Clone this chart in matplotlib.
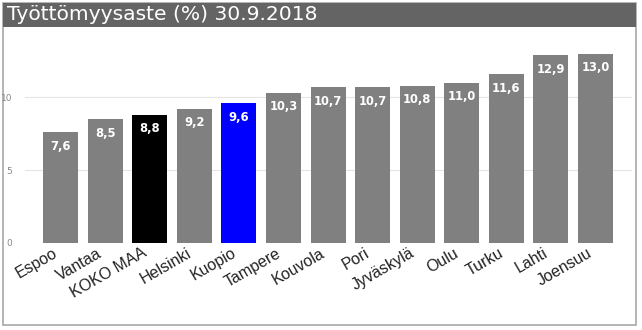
import matplotlib
matplotlib.use("Agg")
import matplotlib.pyplot as plt
import matplotlib.transforms as mtransforms
from matplotlib.patches import Rectangle

# -------- Data ----------
cities = ["Espoo", "Vantaa", "KOKO MAA", "Helsinki", "Kuopio", "Tampere", "Kouvola",
          "Pori", "Jyväskylä", "Oulu", "Turku", "Lahti", "Joensuu"]
rates = [7.6, 8.5, 8.8, 9.2, 9.6, 10.3, 10.7, 10.7, 10.8, 11.0, 11.6, 12.9, 13.0]
highlight = {"KOKO MAA": "#000000", "Kuopio": "#0000ff"}
yticks = [0, 5, 10]
title = "Työttömyysaste (%) 30.9.2018"

W, H, DPI = 642, 330, 100
fig = plt.figure(figsize=(W / DPI, H / DPI), dpi=DPI)

def fx(px):
    return px / W

def fy(py):
    return 1 - py / H

# panel border and title bar (behind the axes)
fig.patches.append(Rectangle((fx(3), fy(325)), fx(633), 322 / H, transform=fig.transFigure,
                             facecolor="white", edgecolor="#a8a8a8", linewidth=1.2, zorder=-2))
fig.patches.append(Rectangle((fx(3), fy(27)), fx(633), 24 / H, transform=fig.transFigure,
                             facecolor="#646464", edgecolor="none", zorder=-1))
fig.text(fx(7), fy(15), title, color="white", fontsize=14.6, va="center", ha="left",
         family="DejaVu Sans")

ymax = 14.0
px_per_unit = 14.53
top_px = 242.7 - ymax * px_per_unit
ax = fig.add_axes([fx(25), fy(242.7), fx(632) - fx(25), (242.7 - top_px) / H])
ax.set_facecolor("none")

x = range(len(cities))
colors = [highlight.get(c, "#808080") for c in cities]
ax.bar(x, rates, width=0.785, color=colors, zorder=2)

for i, v in enumerate(rates):
    ax.annotate(f"{v:.1f}".replace(".", ","), (i, v), xytext=(0, -10), textcoords="offset points",
                ha="center", va="center", color="white", fontsize=9.3, fontweight="bold",
                fontstretch="condensed", zorder=3)

ax.set_xlim(-0.8, len(cities) - 1 + 0.82)
ax.set_ylim(0, ymax)
ax.set_yticks(yticks)
ax.set_yticklabels([str(t) for t in yticks], fontsize=6.5, color="#888888")
ax.yaxis.grid(True, color="#e4e4e4", linewidth=0.8, zorder=0)
ax.tick_params(axis="y", length=0, pad=9)
ax.tick_params(axis="x", length=0, pad=2)
for s in ax.spines.values():
    s.set_visible(False)

ax.set_xticks(list(x))
ax.set_xticklabels(cities, rotation=30, ha="right", rotation_mode="anchor",
                   fontsize=11.5, color="#222222", family="Liberation Sans")
offset = mtransforms.ScaledTranslation(-8 / DPI, 0 / DPI, fig.dpi_scale_trans)
for lbl in ax.get_xticklabels():
    lbl.set_transform(lbl.get_transform() + offset)

fig.savefig("out.png", dpi=DPI)
